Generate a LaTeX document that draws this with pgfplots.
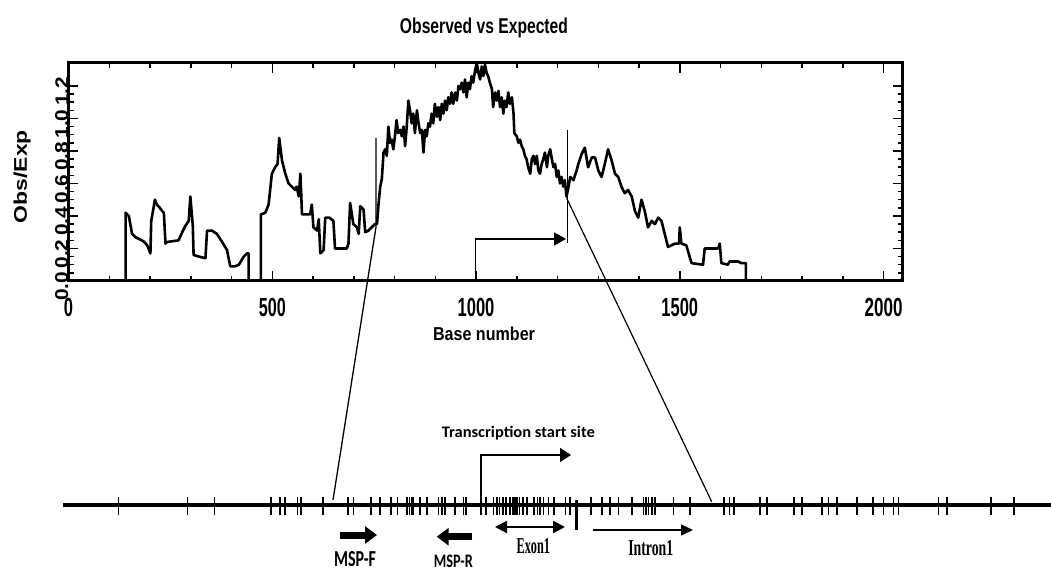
\documentclass[border=0pt]{standalone}
\usepackage{pgfplots}
\pgfplotsset{compat=1.18}
\usepackage{graphicx}
\usepackage{fontspec}
\setmainfont{Liberation Sans}
\newfontfamily\calfont{Carlito}
\newfontfamily\serfont{Liberation Serif}
\usetikzlibrary{arrows.meta}
\newcommand\rb[3]{\resizebox{#1pt}{#2pt}{#3}}

\begin{document}
\begin{tikzpicture}[x=1pt,y=1pt]
\useasboundingbox (0,0) rectangle (1051,572);
\begin{axis}[at={(68.5pt,291pt)}, anchor=south west, scale only axis,
  width=834.2pt, height=218.3pt,
  xmin=0, xmax=2047, ymin=0, ymax=1.343,
  axis line style={line width=3pt},
  xtick={0,500,1000,1500,2000},
  xticklabels={\rb{9.2}{18.3}{\bfseries 0},\rb{27}{18.3}{\bfseries 500},\rb{36.7}{18.3}{\bfseries 1000},\rb{36.7}{18.3}{\bfseries 1500},\rb{38}{18.3}{\bfseries 2000}},
  ytick={0,0.2,0.4,0.6,0.8,1.0,1.2},
  yticklabels={\rb{29}{13}{\bfseries 0.0},\rb{29}{13}{\bfseries 0.2},\rb{29}{13}{\bfseries 0.4},\rb{29}{13}{\bfseries 0.6},\rb{29}{13}{\bfseries 0.8},\rb{29}{13}{\bfseries 1.0},\rb{29}{13}{\bfseries 1.2}},
  minor x tick num=4, minor y tick num=3,
  tick align=inside, major tick length=10pt, minor tick length=5pt,
  tick style={black, line width=1.5pt},
  xticklabel style={anchor=north, inner sep=0pt, yshift=-17.3pt},
  yticklabel style={rotate=90, anchor=south, inner sep=0pt, xshift=-5.5pt},
]
\addplot[black, line width=2.6pt, line join=round, mark=none] coordinates {
(140,0) (140,0.42) (148,0.40) (156,0.29) (164,0.27) (172,0.26) (180,0.25) (186,0.24) (193,0.22) (201,0.17) (203,0.37) (208,0.44) (212,0.50) (217,0.47) (224,0.45) (230,0.43) (234,0.42) (238,0.23) (242,0.24) (256,0.245) (270,0.25) (279,0.30) (287,0.34) (295,0.37) (299,0.52) (303,0.40) (305,0.34) (307,0.16) (320,0.15) (336,0.14) (340,0.31) (352,0.31) (364,0.29) (377,0.24) (389,0.19) (397,0.09) (408,0.09) (418,0.10) (430,0.15) (438,0.17) (442,0.17) (442,0)
};
\addplot[black, line width=2.6pt, line join=round, mark=none] coordinates {
(472,0) (472,0.41) (483,0.42) (491,0.47) (499,0.66) (507,0.70) (513,0.72) (517,0.88) (524,0.74) (532,0.66) (540,0.60) (548,0.58) (556,0.56) (560,0.58) (565,0.52) (569,0.66) (573,0.41) (593,0.41) (597,0.47) (601,0.33) (610,0.31) (614,0.38) (618,0.17) (626,0.19) (630,0.39) (640,0.39) (650,0.37) (654,0.20) (683,0.20) (687,0.23) (691,0.48) (699,0.35) (708,0.33) (712,0.29) (716,0.46) (724,0.44) (728,0.30) (736,0.31) (752,0.35) (757,0.35) (761,0.48) (765,0.58) (769,0.63) (773,0.79) (777,0.81) (781,0.77) (785,0.95) (789,0.85) (793,0.87) (797,0.81) (801,0.89) (805,0.99) (809,0.91) (814,0.93) (818,0.89) (822,0.95) (826,0.83) (830,0.95) (834,1.11) (838,1.05) (842,0.97) (846,1.03) (850,0.91) (855,1.05) (859,0.97) (863,0.91) (867,0.93) (871,0.79) (875,0.93) (879,0.89) (883,0.97) (887,0.95) (891,1.03) (895,0.97) (899,1.09) (904,1.01) (908,1.07) (912,0.99) (916,1.09) (920,1.03) (924,1.11) (928,1.05) (932,1.13) (936,1.09) (940,1.16) (944,1.09) (949,1.16) (953,1.11) (957,1.20) (961,1.18) (965,1.22) (969,1.16) (973,1.24) (977,1.13) (981,1.22) (985,1.18) (989,1.26) (993,1.22) (998,1.30) (1002,1.34) (1006,1.28) (1010,1.24) (1014,1.32) (1018,1.26) (1022,1.33) (1026,1.28) (1030,1.26) (1034,1.22) (1039,1.18) (1042,1.07) (1047,1.16) (1051,1.11) (1055,1.17) (1059,1.07) (1063,1.13) (1067,1.03) (1071,1.11) (1075,1.07) (1079,1.16) (1083,1.09) (1088,1.13) (1092,1.03) (1094,0.91) (1100,0.89) (1104,0.85) (1108,0.87) (1112,0.83) (1116,0.81) (1120,0.77) (1124,0.75) (1128,0.70) (1133,0.66) (1137,0.75) (1141,0.77) (1145,0.72) (1149,0.77) (1153,0.68) (1157,0.66) (1161,0.72) (1165,0.75) (1169,0.79) (1174,0.70) (1177,0.77) (1182,0.81) (1186,0.75) (1190,0.70) (1194,0.72) (1198,0.64) (1202,0.68) (1206,0.60) (1210,0.64) (1214,0.58) (1218,0.62) (1222,0.52) (1227,0.58) (1231,0.64) (1239,0.62) (1247,0.68) (1251,0.72) (1259,0.78) (1267,0.82) (1275,0.70) (1284,0.76) (1292,0.76) (1300,0.68) (1308,0.64) (1316,0.72) (1324,0.81) (1333,0.74) (1341,0.66) (1349,0.64) (1357,0.58) (1365,0.54) (1373,0.56) (1382,0.52) (1390,0.43) (1398,0.39) (1406,0.50) (1414,0.43) (1422,0.33) (1431,0.37) (1439,0.35) (1447,0.39) (1455,0.37) (1463,0.29) (1471,0.21) (1480,0.22) (1488,0.23) (1498,0.23) (1500,0.33) (1504,0.23) (1516,0.22) (1524,0.15) (1529,0.11) (1557,0.10) (1561,0.20) (1594,0.20) (1598,0.23) (1602,0.11) (1618,0.10) (1622,0.12) (1643,0.12) (1651,0.11) (1662,0.11) (1662,0)
};
\end{axis}
\begin{axis}[at={(0pt,0pt)}, anchor=south west, scale only axis,
  width=1051pt, height=572pt, xmin=0, xmax=1051, ymin=0, ymax=572,
  y dir=reverse, hide axis, clip=false]
% titles
\node[anchor=base, inner sep=0pt] at (axis cs:484,34) {\rb{168}{15.5}{\bfseries Observed vs Expected}};
\node[anchor=base, inner sep=0pt] at (axis cs:484,340) {\rb{102}{13.5}{\bfseries Base number}};
\node[rotate=90, anchor=base, inner sep=0pt] at (axis cs:27,176.7) {\rb{93}{13.3}{\bfseries Obs/Exp}};
% annotations in plot
\draw[black, line width=1.3pt] (axis cs:376,138) -- (axis cs:376,227) -- (axis cs:333,500);
\draw[black, line width=1.3pt] (axis cs:567.3,130) -- (axis cs:567.3,243.3);
\draw[black, line width=1.2pt] (axis cs:566.7,198.3) -- (axis cs:711.7,501.7);
\draw[black, line width=1.5pt, -{Triangle[length=12pt,width=13pt]}] (axis cs:475.7,281) -- (axis cs:475.7,239) -- (axis cs:566,239);
% gene line
\addplot[black, line width=4pt, mark=none] coordinates {(63,505) (1051,505)};
\addplot[black, only marks, mark=|, mark size=9pt, mark options={line width=1.6pt}] coordinates {
(118.3,506) (187.3,506) (214.3,506) (271,506) (280,506) (285,506) (297.3,506) (300.7,506) (322.7,506) (347.7,506) (353.3,506) (370.7,506) (380,506) (390.7,506) (397.5,506) (406.7,506) (409.3,506) (411.7,506) (413.3,506) (420,506) (426.7,506) (438.3,506) (441.7,506) (445,506) (455,506) (463.3,506) (466,506) (481,506) (486,506) (493.3,506) (496.7,506) (499.3,506) (502.7,506) (506,506) (510,506) (512.7,506) (514.7,506) (516.7,506) (519.3,506) (522.7,506) (526.7,506) (534,506) (537.3,506) (540,506) (543.3,506) (548.3,506) (554,506) (565.3,506) (570,506) (590.7,506) (601.7,506) (610,506) (618.3,506) (631.7,506) (643.3,506) (646,506) (648.3,506) (651.7,506) (655,506) (673.3,506) (690,506) (724,506) (729.3,506) (734,506) (760,506) (766.7,506) (794,506) (801.7,506) (821.7,506) (828.3,506) (836.7,506) (856.7,506) (872.7,506) (883.3,506) (893.3,506) (898.3,506) (938.3,506) (946.7,506) (990.7,506) (1014,506)
};
\addplot[black, line width=2.5pt, mark=none] coordinates {(576.7,500) (576.7,530)};
% TSS arrow
\draw[black, line width=1.5pt, -{Triangle[length=11pt,width=14pt]}] (axis cs:481,505) -- (axis cs:481,455) -- (axis cs:571,455);
\node[anchor=base, inner sep=0pt] at (axis cs:518.3,437.3) {\rb{153}{11.3}{\calfont\bfseries Transcription start site}};
% primers
\draw[black, line width=7pt, -{Triangle[length=12pt,width=17pt]}] (axis cs:340,535) -- (axis cs:377,535);
\draw[black, line width=7pt, -{Triangle[length=12pt,width=17pt]}] (axis cs:472,536.7) -- (axis cs:436.7,536.7);
\node[anchor=base, inner sep=0pt] at (axis cs:355,566.5) {\rb{42}{15}{\calfont\bfseries MSP-F}};
\node[anchor=base, inner sep=0pt] at (axis cs:453.3,567.5) {\rb{39}{12.5}{\calfont\bfseries MSP-R}};
% exon / intron
\draw[black, line width=2.2pt, {Triangle[length=12pt,width=12pt]}-{Triangle[length=12pt,width=12pt]}] (axis cs:495,527) -- (axis cs:565,527);
\draw[black, line width=1.5pt, -{Triangle[length=12pt,width=11pt]}] (axis cs:593,530) -- (axis cs:693,530);
\node[anchor=base, inner sep=0pt] at (axis cs:533.3,553.3) {\rb{33.3}{15}{\serfont\bfseries Exon1}};
\node[anchor=base, inner sep=0pt] at (axis cs:650.8,555) {\rb{45}{15}{\serfont\bfseries Intron1}};
\end{axis}
\end{tikzpicture}
\end{document}
